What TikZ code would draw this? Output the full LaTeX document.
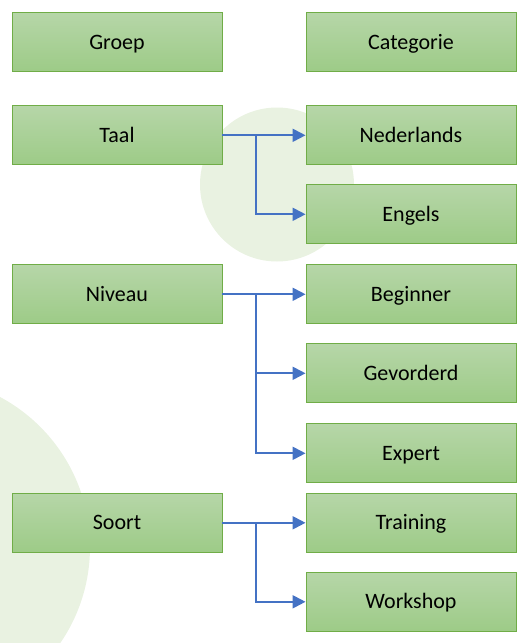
\documentclass[tikz,border=0pt]{standalone}
\usepackage{fontspec}
\setmainfont{Carlito}
\usepackage{tikz}
\usetikzlibrary{arrows.meta}
\usetikzlibrary{positioning,calc}
\definecolor{groenrand}{RGB}{112,173,71}
\definecolor{groenboven}{RGB}{182,214,168}
\definecolor{groenonder}{RGB}{157,203,135}
\definecolor{pijlblauw}{RGB}{68,114,196}
\definecolor{cirkelgroen}{RGB}{233,242,225}

\tikzset{
  vak/.style={draw=groenrand,line width=0.9pt,top color=groenboven,bottom color=groenonder,
              minimum width=210pt,minimum height=59pt,inner sep=0pt,
              text height=17pt,text depth=3pt,
              font=\fontsize{22}{26}\selectfont},
  pijl/.style={draw=pijlblauw,line width=2pt,-{Triangle[length=13pt,width=13pt]}}
}

\begin{document}
\begin{tikzpicture}[x=1pt,y=-1pt]
    \useasboundingbox (0,0) rectangle (531,643);
    \clip (0,0) rectangle (531,643);
    % achtergrond
    \fill[cirkelgroen] (277,184.5) circle (77);
    \fill[cirkelgroen] (-80,547) circle (170);
    % groepen
    \foreach \naam/\tekst/\y in {
      groep/Groep/42, taal/Taal/135.3, niveau/Niveau/294.3, soort/Soort/522.8}{
      \node[vak] (\naam) at (117,\y) {\tekst};
    }
    % categorieen
    \foreach \naam/\tekst/\y in {
      cat/Categorie/42, ned/Nederlands/135.3, eng/Engels/214.3,
      beg/Beginner/294.3, gev/Gevorderd/373.3, exp/Expert/453.3,
      tra/Training/522.8, work/Workshop/601.8}{
      \node[vak] (\naam) at (411,\y) {\tekst};
    }
    % verbindingen
    \draw[pijl] (taal.east) -- (ned.west);
    \draw[pijl] ([xshift=34pt]taal.east) |- (eng.west);
    \draw[pijl] (niveau.east) -- (beg.west);
    \draw[pijl] ([xshift=34pt]niveau.east) |- (gev.west);
    \draw[pijl] ([xshift=34pt]niveau.east) |- (exp.west);
    \draw[pijl] (soort.east) -- (tra.west);
    \draw[pijl] ([xshift=34pt]soort.east) |- (work.west);
\end{tikzpicture}
\end{document}
